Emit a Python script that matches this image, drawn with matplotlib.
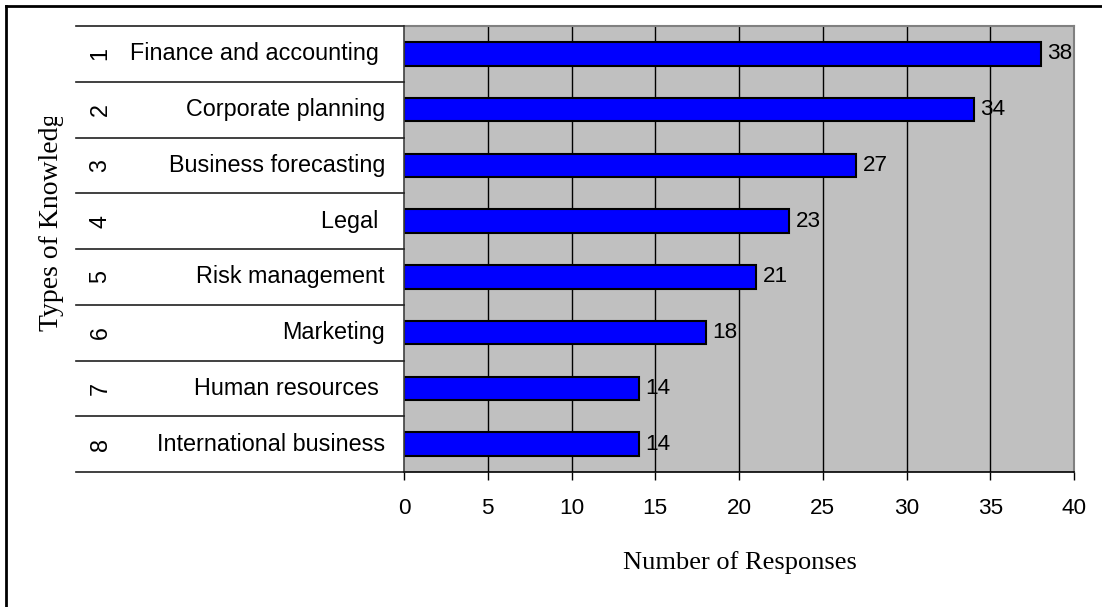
import matplotlib
matplotlib.use("Agg")
import matplotlib.pyplot as plt
from matplotlib.transforms import Bbox, blended_transform_factory
from matplotlib.lines import Line2D

categories = ["Finance and accounting ", "Corporate planning", "Business forecasting",
              "Legal ", "Risk management", "Marketing", "Human resources ",
              "International business"]
numbers = ["1", "2", "3", "4", "5", "6", "7", "8"]
values = [38, 34, 27, 23, 21, 18, 14, 14]
xticks = [0, 5, 10, 15, 20, 25, 30, 35, 40]

W, H = 1102, 607
fig = plt.figure(figsize=(W / 100, H / 100), dpi=100)
fig.patch.set_facecolor("white")

L, R, T, B = 404, 1074, 26, 472
ax = fig.add_axes([L / W, 1 - B / H, (R - L) / W, (B - T) / H])
ax.set_facecolor("#C0C0C0")

n = len(categories)
ypos = list(range(n))
ax.set_xlim(0, 40)
ax.set_ylim(n - 0.5, -0.5)

for x in xticks[1:-1]:
    ax.axvline(x, color="black", lw=1.0, zorder=1)

ax.barh(ypos, values, height=0.42, color="#0000FF", edgecolor="black", lw=1.5, zorder=2)
for y, v in zip(ypos, values):
    ax.annotate(str(v), (v, y), xytext=(5, 0), textcoords="offset points",
                va="center", ha="left", fontsize=16.2, family="Liberation Sans")

ax.set_xticks(xticks)
ax.set_xticklabels([str(t) for t in xticks], fontsize=16.2, family="Liberation Sans")
ax.tick_params(axis="x", direction="out", length=6, width=1, pad=13, color="black")
ax.set_yticks([])

for s in ["top", "right"]:
    ax.spines[s].set_color("#808080")
    ax.spines[s].set_linewidth(1.5)
ax.spines["left"].set_color("#404040")
ax.spines["bottom"].set_color("black")
ax.spines["left"].set_linewidth(1.2)
ax.spines["bottom"].set_linewidth(1.2)

# left category panel
tr = blended_transform_factory(fig.transFigure, ax.transData)
for i in range(n + 1):
    yb = i - 0.5
    fig.add_artist(Line2D([76 / W, L / W], [yb, yb], transform=tr, color="#202020", lw=1.2))
for i, (num, cat) in enumerate(zip(numbers, categories)):
    fig.text(100 / W, i, num, transform=tr, rotation=90, ha="center", va="center",
             fontsize=16.8, family="Liberation Sans")
    fig.text(385 / W, i, cat, transform=tr, ha="right", va="center",
             fontsize=16.8, family="Liberation Sans")

# axis titles
fig.text(740 / W, 1 - 563 / H, "Number of Responses", ha="center", va="center",
         fontsize=19, family="Liberation Serif")
yl = fig.text(52 / W, 1 - 216 / H, "Types of Knowledge", ha="center", va="center",
              rotation=90, fontsize=20, family="Liberation Serif")
yl.set_clip_box(Bbox.from_extents(0, 0, W, H - 117))
yl.set_clip_on(True)

# figure border (top and left visible)
fig.add_artist(Line2D([6 / W, 6 / W], [0, 1 - 6 / H], transform=fig.transFigure, color="black", lw=2))
fig.add_artist(Line2D([6 / W, 1], [1 - 6 / H, 1 - 6 / H], transform=fig.transFigure, color="black", lw=2))

fig.savefig("out.png", dpi=100)
